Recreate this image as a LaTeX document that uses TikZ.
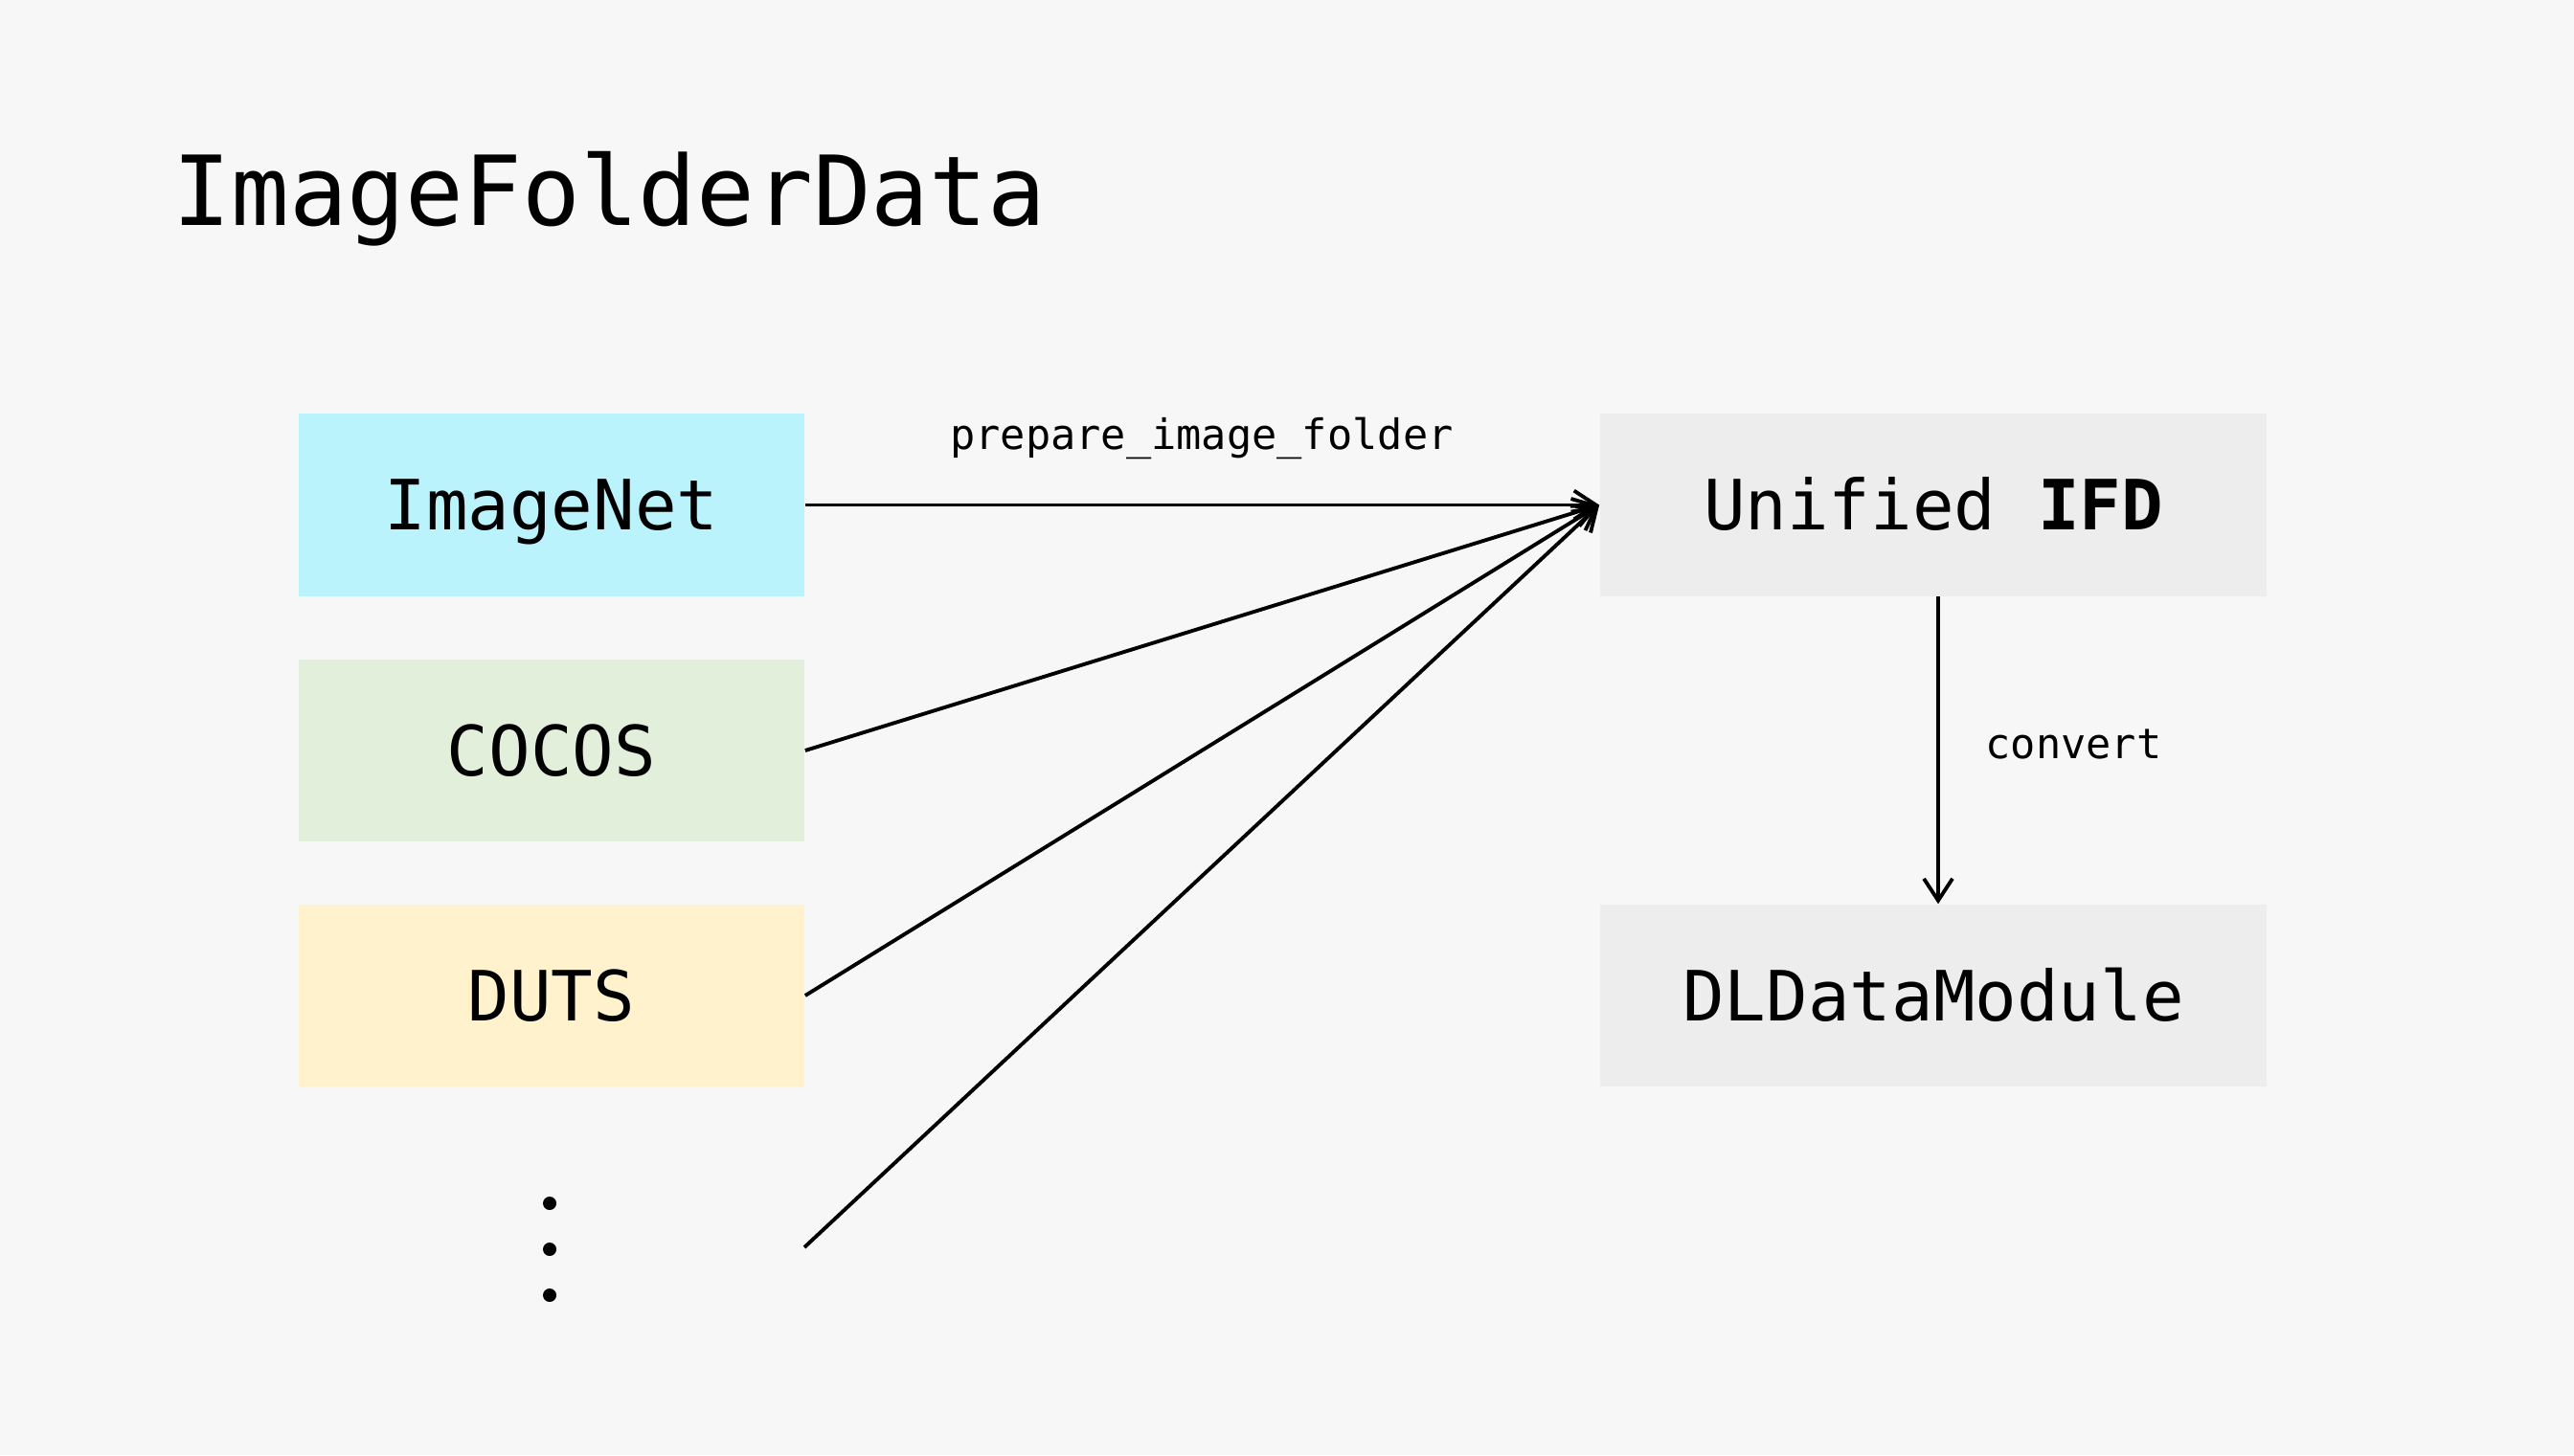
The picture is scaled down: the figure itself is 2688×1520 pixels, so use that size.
\documentclass[tikz,border=0pt]{standalone}
\usepackage{fontspec}
\setmonofont{DejaVu Sans Mono}
\usetikzlibrary{arrows.meta}
\definecolor{bgc}{HTML}{F7F7F7}
\definecolor{cyanbox}{HTML}{BBF3FD}
\definecolor{greenbox}{HTML}{E2EFDA}
\definecolor{yellowbox}{HTML}{FFF2CC}
\definecolor{graybox}{HTML}{EDEDED}
\tikzset{
  databox/.style={minimum width=5.28cm, minimum height=1.9cm, inner sep=0pt, text height=15pt, text depth=0pt, font=\ttfamily\fontsize{20.6}{24}\selectfont},
  modbox/.style={minimum width=6.96cm, minimum height=1.9cm, inner sep=0pt, text height=15pt, text depth=0pt, fill=graybox, font=\ttfamily\fontsize{20.6}{24}\selectfont},
  lbl/.style={inner sep=0pt, font=\ttfamily\fontsize{12.4}{15}\selectfont},
  conn/.style={line width=1.1pt, -{Straight Barb[length=6.5pt,width=8.5pt]}},
  dotmark/.style={circle, fill=black, inner sep=0pt, minimum size=0.14cm}
}
\begin{document}
\begin{tikzpicture}[x=0.01cm, y=-0.01cm]
\fill[bgc] (0,0) rectangle (2688,1520);
\useasboundingbox (0,0) rectangle (2688,1520);
\node[anchor=base west, inner sep=0pt, font=\ttfamily\fontsize{28.7}{34}\selectfont] (title) at (180,235) {ImageFolderData};
\node[databox, fill=cyanbox] (imagenet) at (576,527.5) {ImageNet};
\node[databox, fill=greenbox] (cocos) at (576,784) {COCOS};
\node[databox, fill=yellowbox] (duts) at (576,1040) {DUTS};
\node[dotmark] (d1) at (574,1257) {};
\node[dotmark] (d2) at (574,1305) {};
\node[dotmark] (d3) at (574,1353) {};
\coordinate (more) at (840,1303);
\node[modbox] (ifd) at (2019,527.5) {Unified \textbf{IFD}};
\node[modbox] (dl) at (2019,1040) {DLDataModule};
\draw[conn] (imagenet.east) -- (ifd.west);
\draw[conn] (cocos.east) -- (ifd.west);
\draw[conn] (duts.east) -- (ifd.west);
\draw[conn] (more) -- (ifd.west);
\node[lbl] (prep) at (1255,458) {prepare\_image\_folder};
\draw[conn] (ifd.south -| 2024,0) -- (dl.north -| 2024,0);
\node[lbl, anchor=west] (conv) at (2073,777) {convert};
\end{tikzpicture}
\end{document}
